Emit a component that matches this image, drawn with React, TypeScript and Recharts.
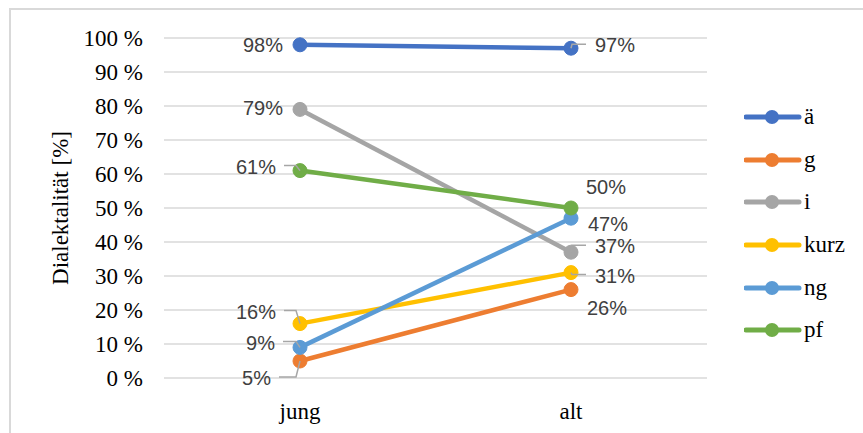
import React from "react";
import { LineChart, Line, XAxis, YAxis, CartesianGrid, LabelList } from "recharts";

const categories = ["jung", "alt"];
const seriesNames = ["ä", "g", "i", "kurz", "ng", "pf"];
const aeValues = [98, 97];
const gValues = [5, 26];
const iValues = [79, 37];
const kurzValues = [16, 31];
const ngValues = [9, 47];
const pfValues = [61, 50];
const yTicks = [0, 10, 20, 30, 40, 50, 60, 70, 80, 90, 100];

const seriesValues: Record<string, number[]> = {
  ä: aeValues,
  g: gValues,
  i: iValues,
  kurz: kurzValues,
  ng: ngValues,
  pf: pfValues,
};

const colors: Record<string, string> = {
  ä: "#4472C4",
  g: "#ED7D31",
  i: "#A5A5A5",
  kurz: "#FFC000",
  ng: "#5B9BD5",
  pf: "#70AD47",
};

// label placement per series, [jung, alt]: offset from the point, leader line on/off
type LabelPos = { dx: number; dy: number; leader: boolean };
const labelPos: Record<string, LabelPos[]> = {
  ä: [{ dx: -17, dy: 0, leader: false }, { dx: 24, dy: -3, leader: true }],
  g: [{ dx: -29, dy: 17, leader: true }, { dx: 16, dy: 18, leader: false }],
  i: [{ dx: -17, dy: -2, leader: false }, { dx: 24, dy: -6, leader: true }],
  kurz: [{ dx: -24, dy: -12, leader: true }, { dx: 24, dy: 3, leader: true }],
  ng: [{ dx: -25, dy: -5, leader: true }, { dx: 17, dy: 6, leader: false }],
  pf: [{ dx: -24, dy: -4, leader: true }, { dx: 15, dy: -21, leader: false }],
};

const data = categories.map((cat, k) => {
  const row: Record<string, string | number> = { cat };
  seriesNames.forEach((s) => {
    row[s] = seriesValues[s][k];
  });
  return row;
});

const serif = "'Liberation Serif', 'Times New Roman', serif";
const sans = "'Liberation Sans', Arial, sans-serif";

function makeLabel(name: string) {
  return (props: any) => {
    const { x, y, value, index } = props;
    const pos = labelPos[name][index];
    const left = index === 0;
    const tx = x + pos.dx;
    const ty = y + pos.dy;
    let leader = null;
    if (pos.leader) {
      const ly = ty - 1;
      const pts = left
        ? `${tx + 8},${ly} ${x - 4},${ly} ${x},${y}`
        : `${x},${y} ${x + 1},${ly} ${tx - 9},${ly}`;
      leader = <polyline points={pts} fill="none" stroke="#A6A6A6" strokeWidth={1.5} />;
    }
    return (
      <g>
        {leader}
        <text
          x={tx}
          y={ty}
          dy="0.36em"
          textAnchor={left ? "end" : "start"}
          fill="#404040"
          fontFamily={sans}
          fontSize={20}
        >
          {`${value}%`}
        </text>
      </g>
    );
  };
}

function LegendBox() {
  return (
    <div>
      {seriesNames.map((s) => (
        <div key={s} style={{ height: 42.6, display: "flex", alignItems: "center" }}>
          <svg width={58} height={20}>
            <line x1={2} y1={10} x2={55} y2={10} stroke={colors[s]} strokeWidth={5} strokeLinecap="round" />
            <circle cx={28} cy={10} r={7} fill={colors[s]} />
          </svg>
          <span style={{ fontFamily: serif, fontSize: 23, color: "#000", marginLeft: 2, lineHeight: "20px" }}>{s}</span>
        </div>
      ))}
    </div>
  );
}

export default function App() {
  return (
    <div style={{ position: "fixed", left: 0, top: 0, width: 863, height: 433, overflow: "hidden", background: "#fff" }}>
      <div
        style={{
          position: "absolute",
          left: 9,
          top: 8,
          width: 880,
          height: 450,
          border: "2px solid #D9D9D9",
        }}
      />
      <div style={{ position: "absolute", left: 0, top: 0 }}>
        <LineChart
          width={863}
          height={433}
          data={data}
          margin={{ top: 38, right: 156, bottom: 0, left: 0 }}
        >
          <CartesianGrid vertical={false} stroke="#D9D9D9" strokeWidth={1.5} />
          <XAxis
            dataKey="cat"
            height={55}
            axisLine={false}
            tickLine={false}
            tickSize={0}
            tickMargin={25}
            padding={{ left: 136, right: 136 }}
            tick={{ fontFamily: serif, fontSize: 23, fill: "#000" }}
          />
          <YAxis
            type="number"
            domain={[0, 100]}
            ticks={yTicks}
            interval={0}
            width={164}
            axisLine={false}
            tickLine={false}
            tickSize={0}
            tickMargin={21}
            tickFormatter={(v: number) => `${v} %`}
            tick={{ fontFamily: serif, fontSize: 23, fill: "#000" }}
            label={{
              value: "Dialektalität [%]",
              angle: -90,
              position: "center",
              dx: -22,
              style: { fontFamily: serif, fontSize: 23, fill: "#000", textAnchor: "middle" },
            }}
          />
          {seriesNames.map((s) => (
            <Line
              key={s}
              type="linear"
              dataKey={s}
              stroke={colors[s]}
              strokeWidth={4.5}
              dot={{ r: 7, fill: colors[s], stroke: colors[s], strokeWidth: 1 }}
              activeDot={false}
              isAnimationActive={false}
            >
              <LabelList dataKey={s} content={makeLabel(s)} />
            </Line>
          ))}
        </LineChart>
      </div>
      <div style={{ position: "absolute", left: 744, top: 96 }}>
        <LegendBox />
      </div>
    </div>
  );
}
